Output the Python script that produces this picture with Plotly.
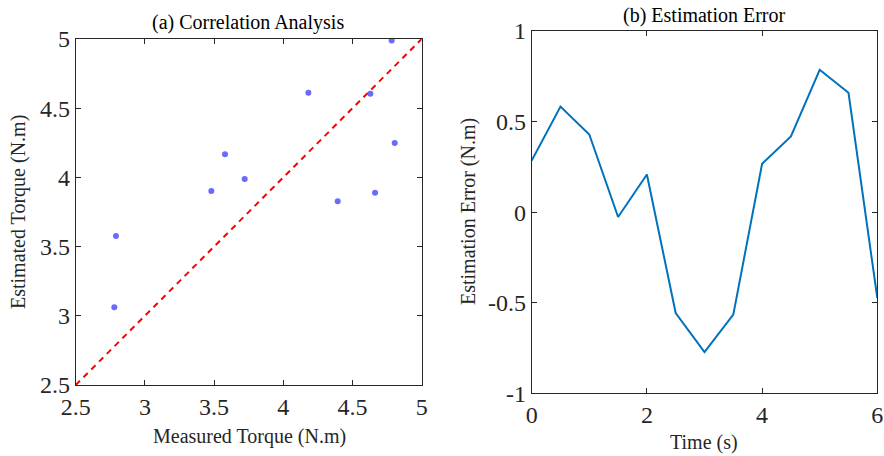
import plotly.graph_objects as go

# Scatter data: measured vs. estimated torque (N.m)
measured = [2.779, 2.791, 3.480, 3.579, 3.721, 4.181, 4.393, 4.629, 4.663, 4.783, 4.805]
estimated = [3.061, 3.577, 3.902, 4.167, 3.988, 4.612, 3.827, 4.605, 3.889, 4.990, 4.249]

# Ideal agreement line
ideal = [2.5, 5.0]

# Error time series
time_s = [0, 0.5, 1, 1.5, 2, 2.5, 3, 3.5, 4, 4.5, 5, 5.5, 6]
error_nm = [0.285, 0.583, 0.429, -0.027, 0.208, -0.557, -0.773, -0.566, 0.267, 0.418, 0.786, 0.659, -0.474]

left_ticks = [2.5, 3, 3.5, 4, 4.5, 5]
left_ticktext = ["2.5", "3", "3.5", "4", "4.5", "5"]
right_xticks = [0, 2, 4, 6]
right_yticks = [-1, -0.5, 0, 0.5, 1]
right_yticktext = ["-1", "-0.5", "0", "0.5", "1"]

FONT = "Liberation Serif"
AX = "#262626"
W, H = 884, 456

fig = go.Figure()
fig.add_trace(go.Scatter(
    x=ideal, y=ideal, mode="lines",
    line=dict(color="#ff0000", width=2, dash="6px,5px"),
    xaxis="x", yaxis="y", showlegend=False,
))
fig.add_trace(go.Scatter(
    x=measured, y=estimated, mode="markers",
    marker=dict(color="rgba(80,80,255,0.85)", size=6),
    xaxis="x", yaxis="y", showlegend=False,
))
fig.add_trace(go.Scatter(
    x=time_s, y=error_nm, mode="lines",
    line=dict(color="#0072BD", width=2),
    xaxis="x2", yaxis="y2", showlegend=False,
))

axis_common = dict(
    showgrid=False, zeroline=False, showline=True, linecolor=AX, linewidth=1,
    mirror="ticks", ticks="inside", ticklen=5, tickwidth=1, tickcolor=AX,
    tickfont=dict(family=FONT, size=24, color=AX), automargin=False,
)

fig.update_layout(
    width=W, height=H,
    margin=dict(l=0, r=0, t=0, b=0),
    paper_bgcolor="white", plot_bgcolor="white",
    xaxis=dict(domain=[75.7 / W, 421.7 / W], range=[2.5, 5], tickvals=left_ticks,
               ticktext=left_ticktext, anchor="y", **axis_common),
    yaxis=dict(domain=[1 - 385 / H, 1 - 39 / H], range=[2.5, 5], tickvals=left_ticks,
               ticktext=left_ticktext, anchor="x", **axis_common),
    xaxis2=dict(domain=[531.7 / W, 877.3 / W], range=[0, 6], tickvals=right_xticks,
                anchor="y2", **axis_common),
    yaxis2=dict(domain=[1 - 393.3 / H, 1 - 31 / H], range=[-1, 1], tickvals=right_yticks,
                ticktext=right_yticktext, anchor="x2", **axis_common),
)

title_font = dict(family=FONT, size=20, color="black")
label_font = dict(family=FONT, size=20, color=AX)
annotations = [
    dict(text="(a) Correlation Analysis", x=248, y=22, font=title_font),
    dict(text="(b) Estimation Error", x=704, y=15, font=title_font),
    dict(text="Measured Torque (N.m)", x=249, y=436, font=label_font),
    dict(text="Time (s)", x=704, y=442, font=label_font),
    dict(text="Estimated Torque (N.m)", x=18, y=212, font=label_font, textangle=-90),
    dict(text="Estimation Error (N.m)", x=468, y=212, font=label_font, textangle=-90),
]
for a in annotations:
    fig.add_annotation(
        text=a["text"], xref="paper", yref="paper",
        x=a["x"] / W, y=1 - a["y"] / H,
        xanchor="center", yanchor="middle", showarrow=False,
        font=a["font"], textangle=a.get("textangle", 0),
    )

fig.write_html("out.html")
